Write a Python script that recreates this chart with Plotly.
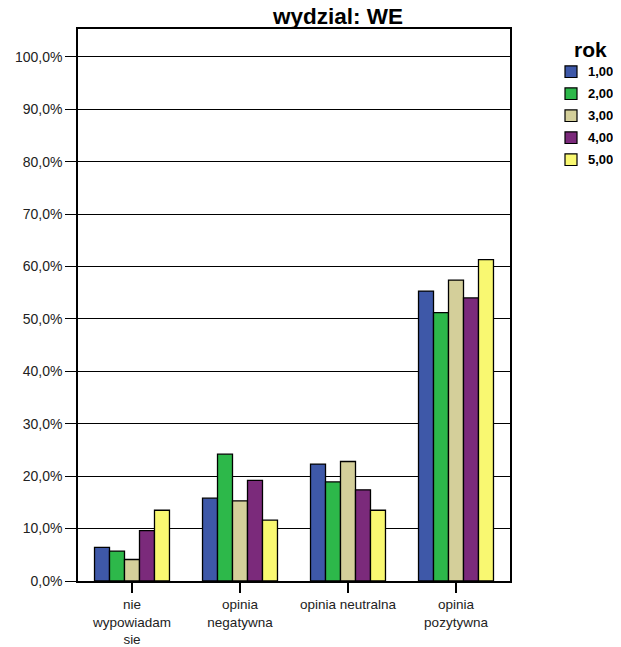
import plotly.graph_objects as go

FONT = "Liberation Sans, Arial, sans-serif"

categories = ["nie<br>wypowiadam<br>sie", "opinia<br>negatywna", "opinia neutralna", "opinia<br>pozytywna"]
years = ["1,00", "2,00", "3,00", "4,00", "5,00"]
colors = ["#3E58A8", "#2DB84A", "#D4CF9A", "#7B2A7B", "#F9F871"]
values = [
    [6.4, 15.8, 22.3, 55.3],   # 1,00
    [5.7, 24.2, 18.9, 51.2],   # 2,00
    [4.1, 15.3, 22.8, 57.4],   # 3,00
    [9.6, 19.2, 17.4, 54.0],   # 4,00
    [13.5, 11.6, 13.5, 61.3],  # 5,00
]
tick_vals = [0, 10, 20, 30, 40, 50, 60, 70, 80, 90, 100]
tick_text = ["0,0%", "10,0%", "20,0%", "30,0%", "40,0%", "50,0%",
             "60,0%", "70,0%", "80,0%", "90,0%", "100,0%"]

# the page body adds an 8px offset, so the figure is drawn 8px smaller
W, H = 613, 639
L, R, T, B = 70, 111, 21, 66
PW, PH = W - L - R, H - T - B


def px(x):  # page pixel -> paper x
    return (x - 8 - L) / PW


def py(y):  # page pixel -> paper y
    return (H - B - (y - 8)) / PH


fig = go.Figure()
for name, col, vals in zip(years, colors, values):
    fig.add_trace(go.Bar(x=categories, y=vals, name=name, marker_color=col,
                         marker_line=dict(color="#000000", width=1.3),
                         showlegend=False))

fig.update_layout(
    width=W, height=H,
    margin=dict(l=L, r=R, t=T, b=B),
    paper_bgcolor="white", plot_bgcolor="white",
    barmode="group", bargap=0.306, bargroupgap=0,
    font=dict(family=FONT, size=13, color="#222"),
)
fig.update_xaxes(showline=True, linecolor="#000", linewidth=1.5, mirror=True,
                 ticks="outside", ticklen=10, tickcolor="#000", tickwidth=1.5,
                 showgrid=False, automargin=False,
                 tickfont=dict(family=FONT, size=13.5, color="#222"),
                 range=[-0.5, 3.5], fixedrange=True)
fig.update_yaxes(range=[0, 105.3], tickvals=tick_vals, ticktext=tick_text,
                 showline=True, linecolor="#000", linewidth=1.5, mirror=True,
                 ticks="outside", ticklen=11, tickcolor="#000", tickwidth=1.2,
                 showgrid=True, gridcolor="#000", gridwidth=1, automargin=False,
                 zeroline=False, tickfont=dict(family=FONT, size=14, color="#222"),
                 fixedrange=True)

# title
fig.add_annotation(text="<b>wydzial: WE</b>", xref="paper", yref="paper",
                   x=px(337), y=1.0, yanchor="bottom", xanchor="center",
                   showarrow=False, yshift=-2.5,
                   font=dict(family=FONT, size=22.5, color="#000"))

# legend, drawn by hand (SPSS style)
fig.add_annotation(text="<b>rok</b>", xref="paper", yref="paper",
                   x=px(590), y=py(49), xanchor="center", yanchor="middle",
                   showarrow=False, font=dict(family=FONT, size=21, color="#000"))
for i, (name, col) in enumerate(zip(years, colors)):
    cy = 71.7 + 22 * i
    fig.add_shape(type="rect", xref="paper", yref="paper",
                  x0=px(565), x1=px(577), y0=py(cy - 5.8), y1=py(cy + 5.8),
                  fillcolor=col, line=dict(color="#000", width=1.2))
    fig.add_annotation(text="<b>%s</b>" % name, xref="paper", yref="paper",
                       x=px(586), y=py(cy), xanchor="left", yanchor="middle",
                       showarrow=False, font=dict(family=FONT, size=13, color="#000"))

fig.write_html("out.html")
